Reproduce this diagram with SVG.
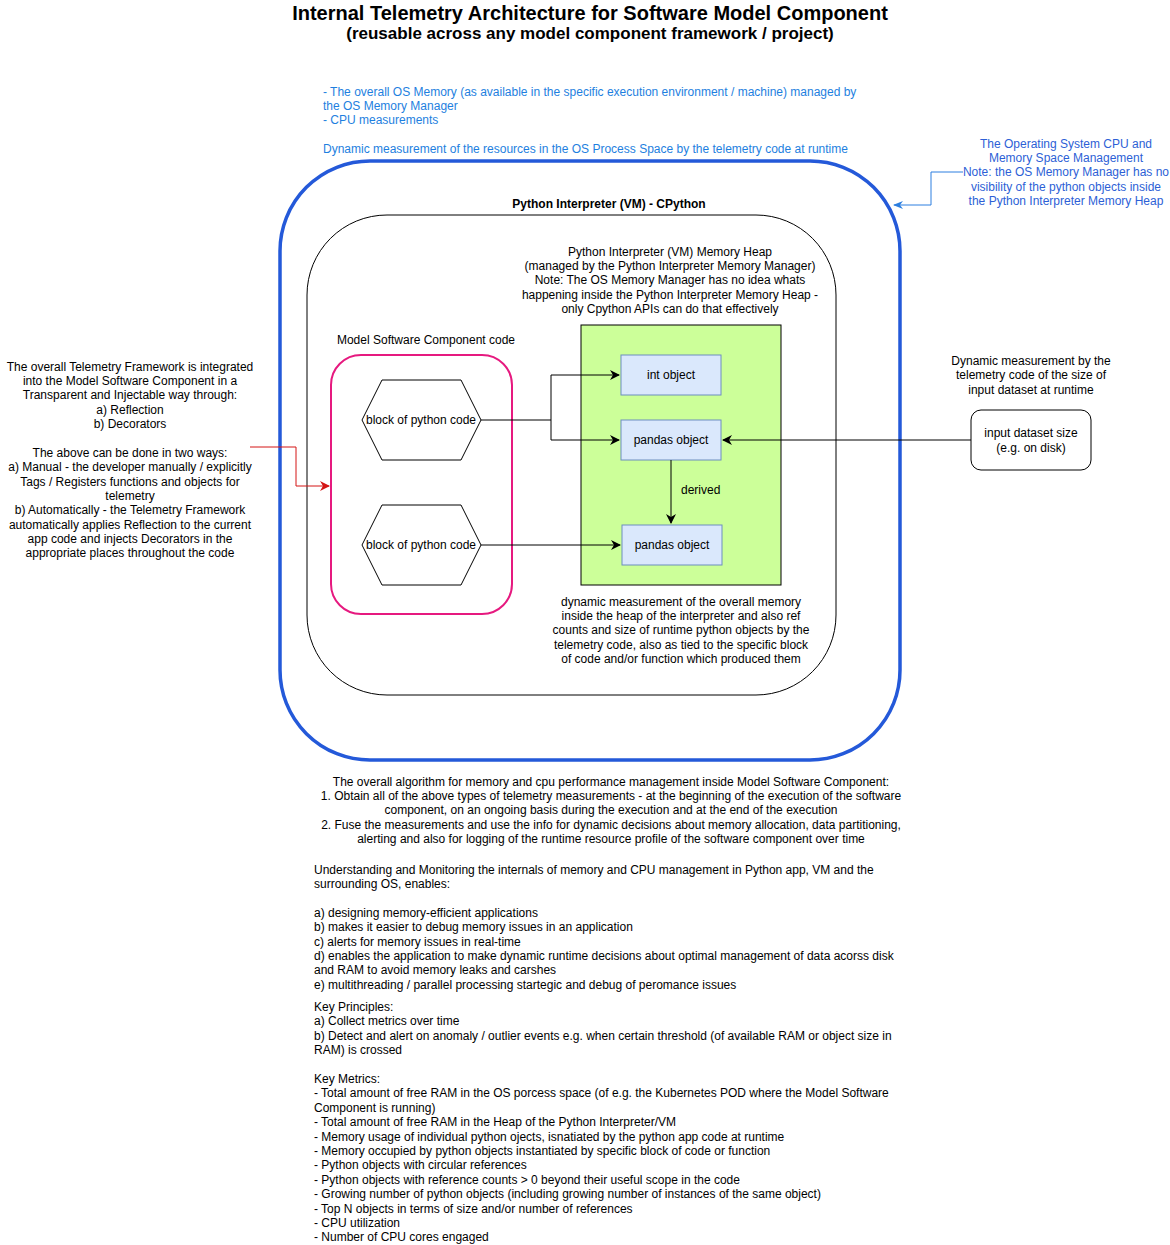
<svg xmlns="http://www.w3.org/2000/svg" width="1170" height="1245" viewBox="0 0 1170 1245">
<style>
text{font-family:"Liberation Sans",Arial,Helvetica,sans-serif;font-size:12px;fill:#000}
.c{text-anchor:middle}
.b{font-weight:bold}
.blue{fill:#1E7FE0}
.blue2{fill:#2D5FD6}
.obj{fill:#dae8fc;stroke:#6c8ebf;stroke-width:1}
.edge{fill:none;stroke:#000;stroke-width:1}
</style>
<defs>
<marker id="ah" viewBox="0 0 10 10" refX="9" refY="5" markerWidth="10" markerHeight="10" markerUnits="userSpaceOnUse" orient="auto">
<path d="M0,0 L10,5 L0,10 L3,5 Z" fill="#000"/>
</marker>
<marker id="ahr" viewBox="0 0 10 10" refX="9" refY="5" markerWidth="10" markerHeight="10" markerUnits="userSpaceOnUse" orient="auto">
<path d="M0,0 L10,5 L0,10 L3,5 Z" fill="#D41414"/>
</marker>
<marker id="ahb" viewBox="0 0 10 10" refX="9" refY="5" markerWidth="10" markerHeight="10" markerUnits="userSpaceOnUse" orient="auto">
<path d="M0,1 L10,5 L0,9 L3,5 Z" fill="#2D7FE0"/>
</marker>
</defs>
<rect width="1170" height="1245" fill="#fff"/>

<g id="title">
<text class="c b" x="590" y="20" style="font-size:20px">Internal Telemetry Architecture for Software Model Component</text>
<text class="c b" x="590" y="39" style="font-size:17px">(reusable across any model component framework / project)</text>
</g>

<g id="os-notes">
<text class="blue" x="323" y="96">- The overall OS Memory (as available in the specific execution environment / machine) managed by</text>
<text class="blue" x="323" y="110">the OS Memory Manager</text>
<text class="blue" x="323" y="124">- CPU measurements</text>
<text class="blue" x="323" y="153">Dynamic measurement of the resources in the OS Process Space by the telemetry code at runtime</text>
</g>

<g id="os-space">
<rect x="280" y="161" width="620" height="599" rx="90" ry="90" fill="none" stroke="#2459D9" stroke-width="3.5"/>
</g>

<g id="os-annotation">
<text class="c blue2" x="1066" y="148">The Operating System CPU and</text>
<text class="c blue2" x="1066" y="162">Memory Space Management</text>
<text class="c blue2" x="1066" y="176">Note: the OS Memory Manager has no</text>
<text class="c blue2" x="1066" y="191">visibility of the python objects inside</text>
<text class="c blue2" x="1066" y="205">the Python Interpreter Memory Heap</text>
</g>

<g id="interpreter">
<rect x="307" y="215" width="529" height="480" rx="80" ry="80" fill="none" stroke="#000" stroke-width="1"/>
<text class="c b" x="609" y="208">Python Interpreter (VM) - CPython</text>
</g>

<g id="heap">
<text class="c" x="670" y="256">Python Interpreter (VM) Memory Heap</text>
<text class="c" x="670" y="270">(managed by the Python Interpreter Memory Manager)</text>
<text class="c" x="670" y="284">Note: The OS Memory Manager has no idea whats</text>
<text class="c" x="670" y="299">happening inside the Python Interpreter Memory Heap -</text>
<text class="c" x="670" y="313">only Cpython APIs can do that effectively</text>
<rect x="581" y="325" width="200" height="260" fill="#CCFF99" stroke="#000" stroke-width="1"/>
<text class="c" x="681" y="606">dynamic measurement of the overall memory</text>
<text class="c" x="681" y="620">inside the heap of the interpreter and also ref</text>
<text class="c" x="681" y="634">counts and size of runtime python objects by the</text>
<text class="c" x="681" y="649">telemetry code, also as tied to the specific block</text>
<text class="c" x="681" y="663">of code and/or function which produced them</text>
</g>

<g id="int-object">
<rect class="obj" x="621" y="355" width="100" height="40"/>
<text class="c" x="671" y="379">int object</text>
</g>
<g id="pandas-object-1">
<rect class="obj" x="621" y="420" width="100" height="40"/>
<text class="c" x="671" y="444">pandas object</text>
</g>
<g id="pandas-object-2">
<rect class="obj" x="622" y="525" width="100" height="40"/>
<text class="c" x="672" y="549">pandas object</text>
</g>

<g id="model-component">
<text class="c" x="426" y="344">Model Software Component code</text>
<rect x="331" y="355" width="181" height="259" rx="30" ry="30" fill="none" stroke="#E6197F" stroke-width="2"/>
</g>

<g id="code-block-1">
<polygon points="362,420 382,380 461,380 481,420 461,460 382,460" fill="#fff" stroke="#000" stroke-width="1"/>
<text class="c" x="421" y="424">block of python code</text>
</g>
<g id="code-block-2">
<polygon points="362,545 382,505 461,505 481,545 461,585 382,585" fill="#fff" stroke="#000" stroke-width="1"/>
<text class="c" x="421" y="549">block of python code</text>
</g>

<g id="input-annotation">
<text class="c" x="1031" y="365">Dynamic measurement by the</text>
<text class="c" x="1031" y="379">telemetry code of the size of</text>
<text class="c" x="1031" y="394">input dataset at runtime</text>
</g>
<g id="input-dataset">
<rect x="971" y="410" width="120" height="60" rx="10" ry="10" fill="#fff" stroke="#000" stroke-width="1"/>
<text class="c" x="1031" y="437">input dataset size</text>
<text class="c" x="1031" y="452">(e.g. on disk)</text>
</g>

<g id="framework-note">
<text class="c" x="130" y="371">The overall Telemetry Framework is integrated</text>
<text class="c" x="130" y="385">into the Model Software Component in a</text>
<text class="c" x="130" y="399">Transparent and Injectable way through:</text>
<text class="c" x="130" y="414">a) Reflection</text>
<text class="c" x="130" y="428">b) Decorators</text>
<text class="c" x="130" y="457">The above can be done in two ways:</text>
<text class="c" x="130" y="471">a) Manual - the developer manually / explicitly</text>
<text class="c" x="130" y="486">Tags / Registers functions and objects for</text>
<text class="c" x="130" y="500">telemetry</text>
<text class="c" x="130" y="514">b) Automatically - the Telemetry Framework</text>
<text class="c" x="130" y="529">automatically applies Reflection to the current</text>
<text class="c" x="130" y="543">app code and injects Decorators in the</text>
<text class="c" x="130" y="557">appropriate places throughout the code</text>
</g>

<g id="connectors">
<path class="edge" d="M481,420 H551 V375 H619" marker-end="url(#ah)"/>
<path class="edge" d="M551,420 V440 H619" marker-end="url(#ah)"/>
<path class="edge" d="M481,545 H620" marker-end="url(#ah)"/>
<path class="edge" d="M671,460 V523" marker-end="url(#ah)"/>
<text x="681" y="494">derived</text>
<path class="edge" d="M971,440 H723" marker-end="url(#ah)"/>
<path d="M250,447 H296 V486 H329" fill="none" stroke="#D41414" stroke-width="1" marker-end="url(#ahr)"/>
<path d="M963,172 H931 V205 H894" fill="none" stroke="#2D7FE0" stroke-width="1" marker-end="url(#ahb)"/>
</g>

<g id="algorithm">
<text class="c" x="611" y="786">The overall algorithm for memory and cpu performance management inside Model Software Component:</text>
<text class="c" x="611" y="800">1. Obtain all of the above types of telemetry measurements - at the beginning of the execution of the software</text>
<text class="c" x="611" y="814">component, on an ongoing basis during the execution and at the end of the execution</text>
<text class="c" x="611" y="829">2. Fuse the measurements and use the info for dynamic decisions about memory allocation, data partitioning,</text>
<text class="c" x="611" y="843">alerting and also for logging of the runtime resource profile of the software component over time</text>
</g>

<g id="notes">
<text x="314" y="874">Understanding and Monitoring the internals of memory and CPU management in Python app, VM and the</text>
<text x="314" y="888">surrounding OS, enables:</text>
<text x="314" y="917">a) designing memory-efficient applications</text>
<text x="314" y="931">b) makes it easier to debug memory issues in an application</text>
<text x="314" y="946">c) alerts for memory issues in real-time</text>
<text x="314" y="960">d) enables the application to make dynamic runtime decisions about optimal management of data acorss disk</text>
<text x="314" y="974">and RAM to avoid memory leaks and carshes</text>
<text x="314" y="989">e) multithreading / parallel processing startegic and debug of peromance issues</text>
<text x="314" y="1011">Key Principles:</text>
<text x="314" y="1025">a) Collect metrics over time</text>
<text x="314" y="1040">b) Detect and alert on anomaly / outlier events e.g. when certain threshold (of available RAM or object size in</text>
<text x="314" y="1054">RAM) is crossed</text>
<text x="314" y="1083">Key Metrics:</text>
<text x="314" y="1097">- Total amount of free RAM in the OS porcess space (of e.g. the Kubernetes POD where the Model Software</text>
<text x="314" y="1112">Component is running)</text>
<text x="314" y="1126">- Total amount of free RAM in the Heap of the Python Interpreter/VM</text>
<text x="314" y="1141">- Memory usage of individual python ojects, isnatiated by the python app code at runtime</text>
<text x="314" y="1155">- Memory occupied by python objects instantiated by specific block of code or function</text>
<text x="314" y="1169">- Python objects with circular references</text>
<text x="314" y="1184">- Python objects with reference counts &gt; 0 beyond their useful scope in the code</text>
<text x="314" y="1198">- Growing number of python objects (including growing number of instances of the same object)</text>
<text x="314" y="1213">- Top N objects in terms of size and/or number of references</text>
<text x="314" y="1227">- CPU utilization</text>
<text x="314" y="1241">- Number of CPU cores engaged</text>
</g>
</svg>
